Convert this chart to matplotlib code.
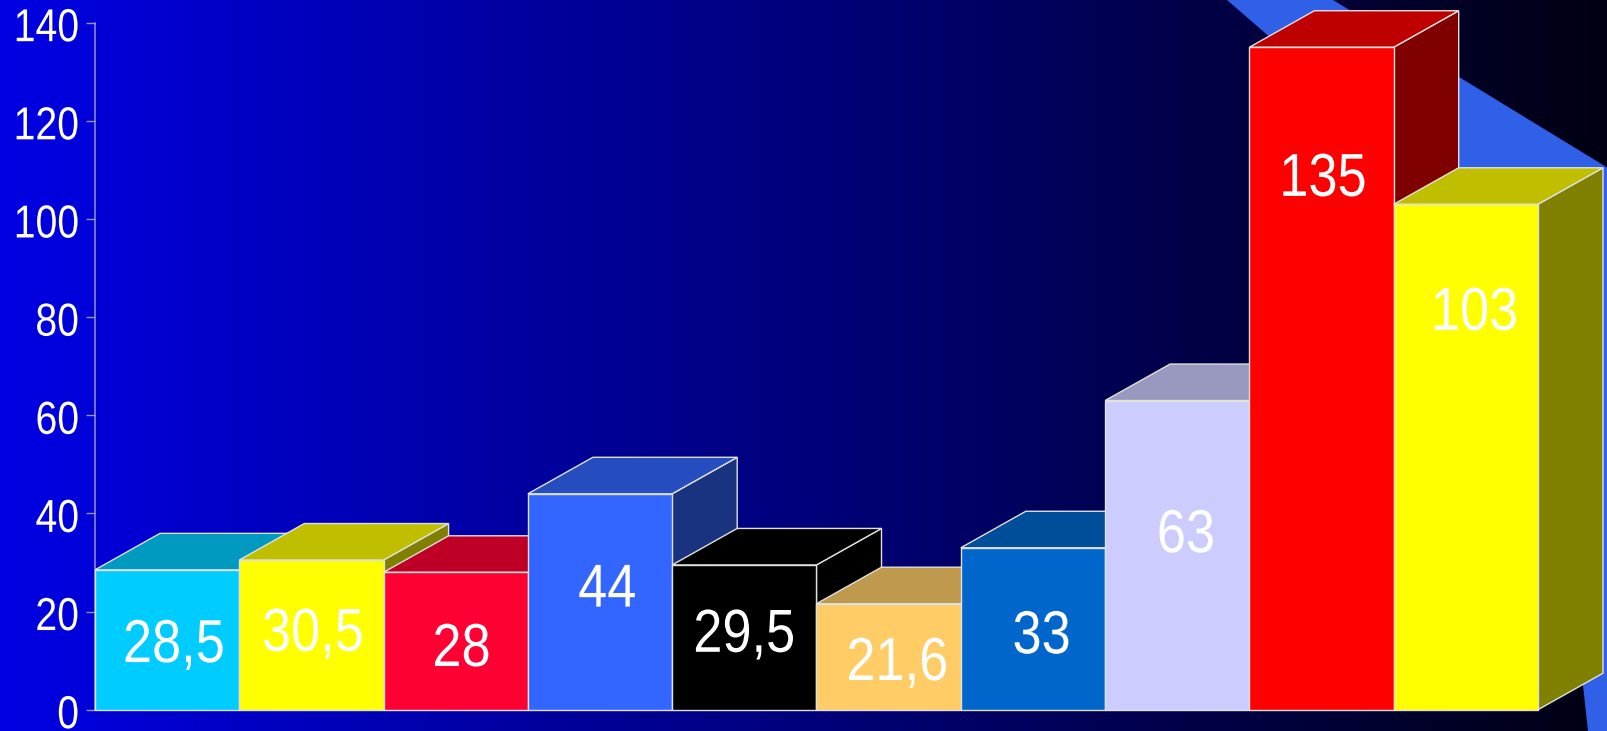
import numpy as np
import matplotlib
matplotlib.use("Agg")
import matplotlib.pyplot as plt
from matplotlib.patches import Polygon
from matplotlib.patheffects import AbstractPathEffect
from matplotlib.transforms import Affine2D
from matplotlib.colors import to_rgb

values = [28.5, 30.5, 28, 44, 29.5, 21.6, 33, 63, 135, 103]
labels = ["28,5", "30,5", "28", "44", "29,5", "21,6", "33", "63", "135", "103"]
colors = ["#00CCFF", "#FFFF00", "#FF0033", "#3366FF", "#000000",
          "#FFCC66", "#0066CC", "#CCCCFF", "#FF0000", "#FFFF00"]
label_x = [0.547, 1.51, 2.54, 3.55, 4.50, 5.56, 6.56, 7.56, 8.51, 9.56]
label_base = [9.7, 12.0, 8.9, 21.0, 11.8, 6.05, 11.5, 32.1, 104.7, 77.4]
yticks = [0, 20, 40, 60, 80, 100, 120, 140]

W, H = 1608, 731
fig = plt.figure(figsize=(W / 100, H / 100), dpi=100)
plt.rcParams['font.family'] = ['Liberation Sans', 'DejaVu Sans']


class StretchY(AbstractPathEffect):
    """The source image is stretched vertically, glyphs included."""
    def __init__(self, s):
        super().__init__()
        self.s = s

    def draw_path(self, renderer, gc, tpath, affine, rgbFace=None):
        renderer.draw_path(gc, tpath, Affine2D().scale(1, self.s) + affine, rgbFace)


# background gradient and blue stripe
bg = fig.add_axes([0, 0, 1, 1], zorder=0)
bg.set_xlim(0, W)
bg.set_ylim(H, 0)
bg.axis("off")
xs = np.linspace(0, 1, 512)
grad = np.zeros((1, 512, 3))
grad[0, :, 2] = (228 - 210 * xs) / 255
bg.imshow(grad, extent=[0, W, H, 0], aspect="auto", zorder=0)
bg.add_patch(Polygon([(1227, 0), (1333, 0), (1608, 168), (1608, 731), (1588, 731),
                      (1578, 640), (1400, 150)],
                     closed=True, fc="#3060E8", ec="none", zorder=1))

# chart
x0, x1, y0, y140 = 95, 1538, 709.7, 22.7
ax = fig.add_axes([x0 / W, 1 - y0 / H, (x1 - x0) / W, (y0 - y140) / H], zorder=2)
ax.patch.set_alpha(0)
ax.set_xlim(0, len(values))
ax.set_ylim(0, 140)
for s in ("top", "right"):
    ax.spines[s].set_visible(False)
ax.spines["left"].set_color("#9494BC")
ax.spines["left"].set_linewidth(1.1)
ax.spines["bottom"].set_color("#C8C8D2")
ax.spines["bottom"].set_linewidth(1.1)
ax.set_xticks([])
ax.set_yticks(yticks)
ax.tick_params(axis="y", length=6.5, width=1.0, color="#9494BC", labelleft=False)

dx, dy = 65 / 144.3, 36.5 / 4.907
edge = "#E0E0DC"


def shade(c, f):
    return tuple(v * f for v in to_rgb(c))


for i, (v, c) in enumerate(zip(values, colors)):
    z = 3 + i
    l, r = i, i + 1
    ax.add_patch(Polygon([(r, 0), (r + dx, dy), (r + dx, v + dy), (r, v)], closed=True,
                         fc=shade(c, 0.5), ec=edge, lw=1.0, clip_on=False, zorder=z))
    ax.add_patch(Polygon([(l, v), (l + dx, v + dy), (r + dx, v + dy), (r, v)], closed=True,
                         fc=shade(c, 0.75), ec=edge, lw=1.0, clip_on=False, zorder=z))
    ax.bar(i + 0.5, v, width=1, color=c, edgecolor=edge, linewidth=1.0, zorder=z, clip_on=False)

for lx, ly, t in zip(label_x, label_base, labels):
    ax.text(lx, ly, t, color="white", fontsize=37.7, ha="center", va="baseline",
            zorder=20, path_effects=[StretchY(1.16)])

# tick labels, baselines sit a little below their ticks as in the source
for t in yticks:
    ax.annotate(str(t), xy=(0, t), xycoords=("axes fraction", "data"),
                xytext=(-16.0, -18.5), textcoords="offset pixels",
                color="white", fontsize=28.2, ha="right", va="baseline",
                annotation_clip=False, path_effects=[StretchY(1.18)])

fig.savefig("out.png", dpi=100)
